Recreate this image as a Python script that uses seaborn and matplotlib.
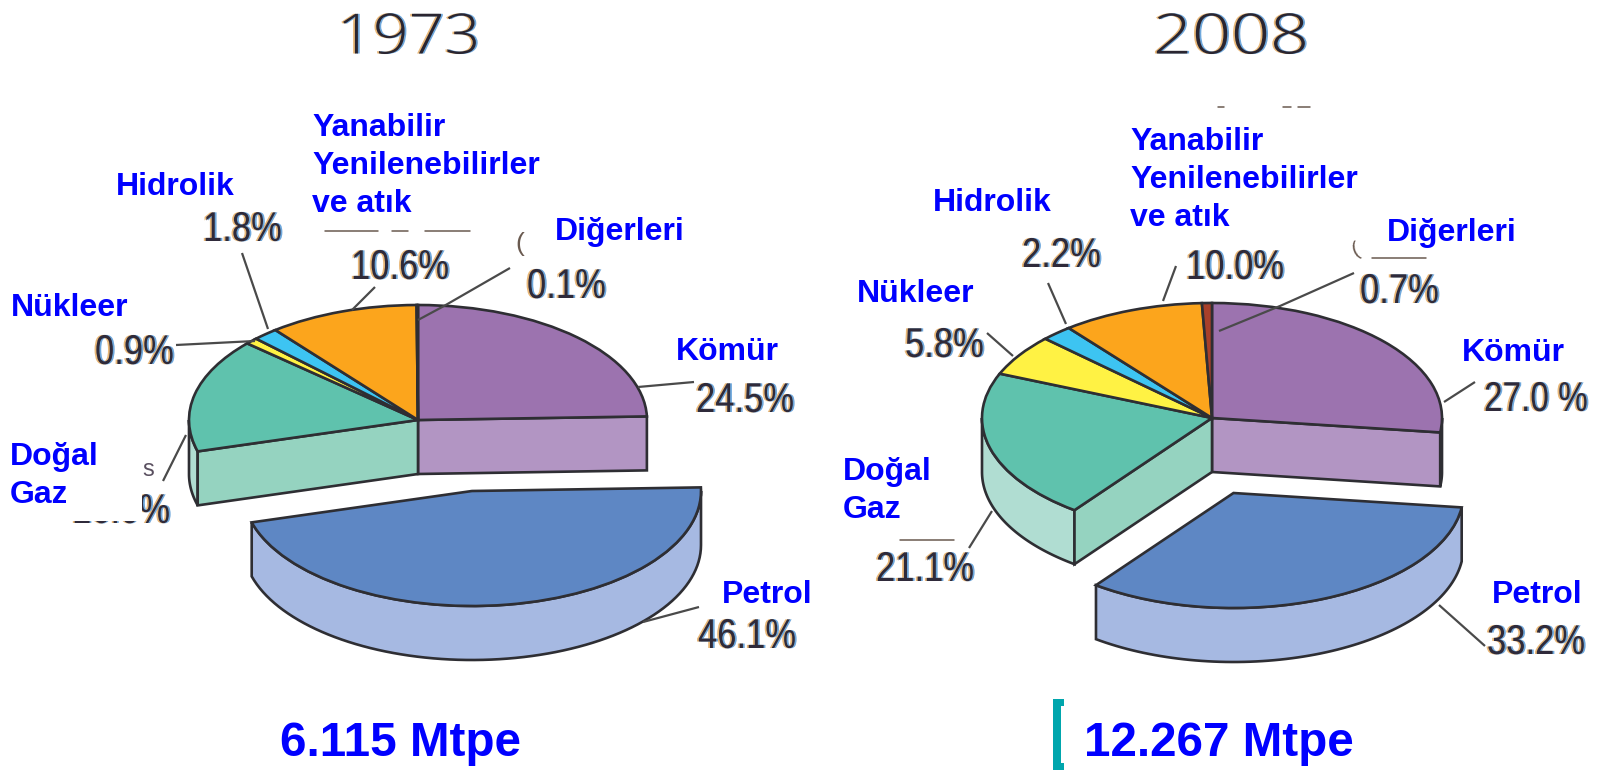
import numpy as np
import matplotlib
matplotlib.use("Agg")
import matplotlib.pyplot as plt
import matplotlib.patheffects as pe
from matplotlib.patches import Rectangle
from matplotlib.transforms import Affine2D
import seaborn as sns

# ---- data ----
categories = ["Kömür", "Petrol", "Doğal Gaz", "Nükleer", "Hidrolik", "Yanabilir Yenilenebilirler ve atık", "Diğerleri"]
values_1973 = [24.5, 46.1, 16.0, 0.9, 1.8, 10.6, 0.1]
values_2008 = [27.0, 33.2, 21.1, 5.8, 2.2, 10.0, 0.7]
years = ["1973", "2008"]
totals = ["6.115 Mtpe", "12.267 Mtpe"]
top_colors = ["#9C73AF", "#5E87C4", "#5FC2AD", "#FFF244", "#3DC4F2", "#FCA51C", "#A8402A"]
EXPLODED = 1
W, H = 1606, 770
sns.set_theme(style="white")
palette = sns.color_palette(top_colors)
PETROL_WALL, GAS_CUT, GAS_WALL, COAL_CUT = "#A6B9E2", "#95D3C0", "#B0DDD2", "#B295C3"
EDGE = "#2E2E33"
EDGE_LW = 1.9

fig = plt.figure(figsize=(W / 100, H / 100), dpi=100, facecolor="white")


def pie3d(values, cx, cy, rx, ry, depth_px, off_px):
    ax = fig.add_axes([0, 0, 1, 1], facecolor="none")
    wedges, _ = ax.pie(values, colors=palette, startangle=90, counterclock=False, radius=1,
                       wedgeprops=dict(edgecolor=EDGE, linewidth=EDGE_LW))
    ax.set_aspect("auto")
    ax.set_xlim(-cx / rx, (W - cx) / rx)
    ax.set_ylim((cy - H) / ry, cy / ry)
    d = depth_px / ry
    off = (off_px[0] / rx, -off_px[1] / ry)
    # slice boundaries, clockwise from the top
    edges = 90 - np.cumsum([0] + list(values)) / sum(values) * 360

    def outer(a0, a1, color, center=(0, 0), z=1):
        a0, a1 = min(a0, 0), max(a1, -180)
        if a0 <= a1:
            return
        t = np.radians(np.linspace(a0, a1, 80))
        x = center[0] + np.cos(t)
        y = center[1] + np.sin(t)
        ax.fill(np.r_[x, x[::-1]], np.r_[y, y[::-1] - d], facecolor=color, edgecolor=EDGE, lw=EDGE_LW, zorder=z)

    def radial(a, color, z=1):
        c, s = np.cos(np.radians(a)), np.sin(np.radians(a))
        ax.fill([0, c, c, 0], [0, s, s - d, -d], facecolor=color, edgecolor=EDGE, lw=EDGE_LW, zorder=z)

    # walls next to the pulled-out slice
    outer(edges[0], edges[1], COAL_CUT)
    radial(edges[1], COAL_CUT)
    outer(edges[2], edges[3], GAS_WALL)
    radial(edges[2], GAS_CUT)
    outer(edges[1], edges[2], PETROL_WALL, center=off, z=3)
    for i, w in enumerate(wedges):
        w.set_zorder(4 if i == EXPLODED else 2)
    wedges[EXPLODED].set_center(off)
    return ax


pie3d(values_1973, 418, 420, 229, 115, 54, (54, 71))
pie3d(values_2008, 1212, 418, 230, 115, 54, (21.5, 75))

# overlay in picture pixels for labels and leaders
ov = fig.add_axes([0, 0, 1, 1], facecolor="none")
ov.set_xlim(0, W)
ov.set_ylim(H, 0)
ov.axis("off")


class Squeezed(pe.AbstractPathEffect):
    """Draw text narrower or wider than its font, optionally shifted and recoloured."""

    def __init__(self, sx, dx=0, color=None):
        super().__init__()
        self.sx, self.dx, self.color = sx, dx, color

    def draw_path(self, renderer, gc, tpath, affine, rgbFace=None):
        t = Affine2D().scale(self.sx, 1) + affine + Affine2D().translate(self.dx, 0)
        face = self.color if self.color is not None else rgbFace
        renderer.draw_path(gc, tpath, t, matplotlib.colors.to_rgb(face) if isinstance(face, str) else face)


def fringe(sx, shift=0):
    return [Squeezed(sx, shift - 1.8, "#E9B878"), Squeezed(sx, shift + 1.8, "#6FA8DC"), Squeezed(sx, shift)]


def pct(x, y, s, sx=0.83, shift=0):
    ov.text(x, y, s, ha="left", va="center", fontsize=30, family="Liberation Sans", color="#2F2A3A",
            path_effects=fringe(sx, shift))


def name(x, y, s):
    ov.text(x, y + 3, s, ha="left", va="center", fontsize=23, family="Liberation Sans", weight="bold",
            color="#0000FF", linespacing=1.35)


def lead(*pts):
    xs, ys = zip(*pts)
    ov.plot(xs, ys, color="#4A4A4A", lw=1.6, solid_capstyle="butt")


for x, s, sx in zip((337, 1153), years, (1.13, 1.23)):
    ov.text(x, 39, s, ha="left", va="center", fontsize=40, family="Open Sans", weight="light",
            color="#2A2530", path_effects=fringe(sx))
for x, s in zip((280, 1084), totals):
    ov.text(x, 743, s, ha="left", va="center", fontsize=34.3, family="Liberation Sans", weight="bold", color="#0000FF")

# 1973 names
name(312, 163, "Yanabilir\nYenilenebilirler\nve atık")
name(116, 184, "Hidrolik")
name(555, 229, "Diğerleri")
name(676, 349, "Kömür")
name(11, 305, "Nükleer")
name(10, 454, "Doğal")
name(10, 492, "Gaz")
name(722, 592, "Petrol")
# 2008 names
name(1130, 177, "Yanabilir\nYenilenebilirler\nve atık")
name(933, 200, "Hidrolik")
name(1387, 230, "Diğerleri")
name(1462, 350, "Kömür")
name(857, 291, "Nükleer")
name(843, 469, "Doğal")
name(843, 507, "Gaz")
name(1492, 592, "Petrol")

# 1973 percentages
pct(203, 230, f"{values_1973[4]}%")
pct(351, 268, f"{values_1973[5]}%")
pct(527, 287, f"{values_1973[6]}%")
pct(95, 353, f"{values_1973[3]}%")
pct(696, 401, f"{values_1973[0]}%")
pct(698, 637, f"{values_1973[1]}%")
pct(72, 512, f"{values_1973[2]}%")
ov.add_patch(Rectangle((66, 480), 76, 41, facecolor="white", edgecolor="none", zorder=5))
# 2008 percentages
pct(1022, 256, f"{values_2008[4]}%")
pct(1186, 268, f"{values_2008[5]}%")
pct(1360, 292, f"{values_2008[6]}%")
pct(905, 346, f"{values_2008[3]}%")
pct(1462, 400, "27.0 %", sx=0.80, shift=22)
pct(876, 570, f"{values_2008[2]}%")
pct(1487, 643, f"{values_2008[1]}%")

# leaders 1973
lead((242, 253), (268, 329))
lead((375, 287), (352, 310))
lead((510, 268), (444, 306), (418, 320))
lead((176, 345), (255, 341))
lead((694, 382), (638, 387))
lead((163, 481), (186, 435))
lead((699, 607), (643, 622))
# leaders 2008
lead((1048, 283), (1066, 324))
lead((1176, 266), (1163, 301))
lead((1354, 273), (1280, 306), (1219, 331))
lead((987, 333), (1013, 356))
lead((1475, 382), (1444, 402))
lead((969, 548), (992, 511))
lead((1485, 646), (1439, 605))

# remnants of the covered source text
for x0, x1, y in [(325, 378, 231), (392, 408, 231), (425, 470, 231), (900, 954, 540), (1372, 1426, 258),
                  (1218, 1224, 107), (1283, 1291, 107), (1298, 1310, 107)]:
    ov.plot([x0, x1], [y, y], color="#6A5A50", lw=1.1)
ov.text(515, 244, "(", fontsize=19, family="Liberation Sans", color="#6A5A50", va="center")
ov.text(1349, 250, "(", fontsize=15, family="Liberation Sans", color="#6A5A50", va="center", rotation=20)
ov.text(142, 470, "s", fontsize=17, family="Liberation Sans", color="#5A5060", va="center")

# teal bracket beside the 2008 total
teal = "#00A6AD"
for x, y, w, h in [(1053, 699, 8, 71), (1053, 699, 11, 7), (1053, 763, 11, 7)]:
    ov.add_patch(Rectangle((x, y), w, h, facecolor=teal, edgecolor="none"))

fig.savefig("out.png", dpi=100, facecolor="white")
